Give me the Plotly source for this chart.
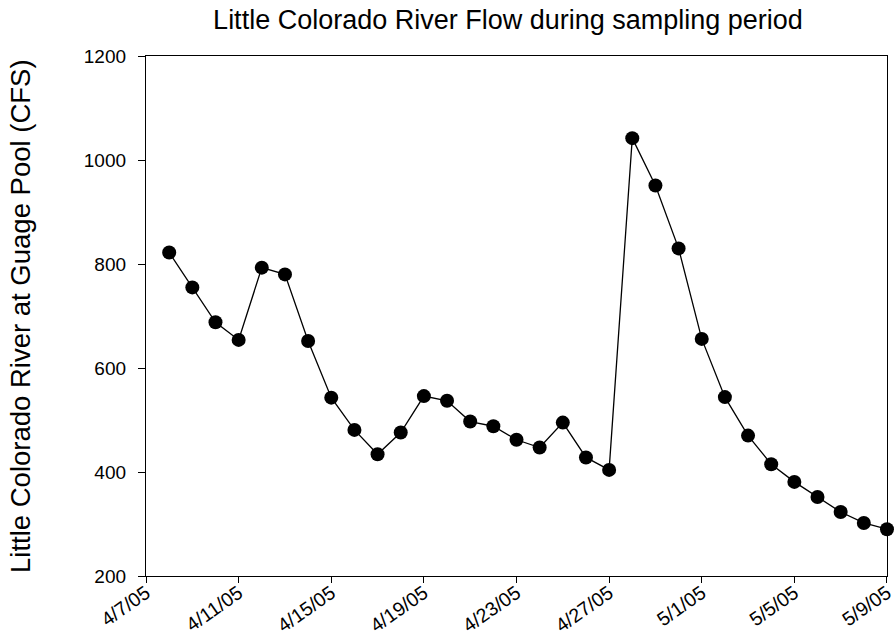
import plotly.graph_objects as go

dates = [
    "2005-04-08", "2005-04-09", "2005-04-10", "2005-04-11", "2005-04-12",
    "2005-04-13", "2005-04-14", "2005-04-15", "2005-04-16", "2005-04-17",
    "2005-04-18", "2005-04-19", "2005-04-20", "2005-04-21", "2005-04-22",
    "2005-04-23", "2005-04-24", "2005-04-25", "2005-04-26", "2005-04-27",
    "2005-04-28", "2005-04-29", "2005-04-30", "2005-05-01", "2005-05-02",
    "2005-05-03", "2005-05-04", "2005-05-05", "2005-05-06", "2005-05-07",
    "2005-05-08", "2005-05-09",
]
flow_cfs = [
    822, 755, 688, 654, 793, 780, 652, 543, 481, 434,
    476, 546, 537, 497, 488, 462, 447, 495, 428, 404,
    1042, 951, 830, 656, 544, 470, 415, 381, 352, 323,
    302, 290,
]

tick_dates = ["2005-04-07", "2005-04-11", "2005-04-15", "2005-04-19", "2005-04-23",
              "2005-04-27", "2005-05-01", "2005-05-05", "2005-05-09"]
tick_labels = ["4/7/05", "4/11/05", "4/15/05", "4/19/05", "4/23/05",
               "4/27/05", "5/1/05", "5/5/05", "5/9/05"]
y_ticks = [200, 400, 600, 800, 1000, 1200]

title_text = "Little Colorado River Flow during sampling period"
y_title = "Little Colorado River at Guage Pool (CFS)"

FONT = "Liberation Sans, Arial, sans-serif"

W, H = 895, 641
L, R, T, B = 146, 8, 56, 65
plot_w = W - L - R

fig = go.Figure()
fig.add_trace(go.Scatter(
    x=dates, y=flow_cfs,
    mode="lines+markers",
    line=dict(color="black", width=1.3),
    marker=dict(color="black", size=14),
    cliponaxis=False,
    showlegend=False,
))

fig.update_layout(
    width=W, height=H,
    margin=dict(l=L, r=R, t=T, b=B),
    paper_bgcolor="white", plot_bgcolor="white",
    font=dict(family=FONT, color="black"),
    title=dict(text=title_text, x=(508 - L) / plot_w, xanchor="center", xref="paper",
               y=1 - 20 / H, yanchor="middle", yref="container",
               font=dict(size=27, family=FONT)),
    annotations=[dict(
        text=y_title, textangle=-90, showarrow=False,
        xref="paper", yref="paper", x=0, y=0.5,
        xanchor="center", yanchor="middle", xshift=-126,
        font=dict(size=27.5, family=FONT, color="black"),
    )],
)
fig.update_xaxes(
    type="date",
    range=["2005-04-06 23:58", "2005-05-09 00:02"],
    tickmode="array", tickvals=tick_dates, ticktext=tick_labels,
    tickangle=-35, tickfont=dict(size=19.5),
    ticks="outside", ticklen=6, tickcolor="black", tickwidth=1.3,
    ticklabelstandoff=-9,
    showline=True, linecolor="black", linewidth=1.3, mirror=True,
    showgrid=False, zeroline=False, automargin=False,
)
fig.update_yaxes(
    range=[200, 1200],
    tickmode="array", tickvals=y_ticks,
    tickfont=dict(size=19),
    ticks="outside", ticklen=7, tickcolor="black", tickwidth=1.3,
    ticklabelstandoff=8,
    showline=True, linecolor="black", linewidth=1.3, mirror=True,
    showgrid=False, zeroline=False, automargin=False,
)

# Remove the browser's default 8px body margin so the figure fills the window,
# and hide the hover toolbar.
fig.write_html("out.html", config={"displayModeBar": False},
               post_script="document.body.style.margin='0';")
